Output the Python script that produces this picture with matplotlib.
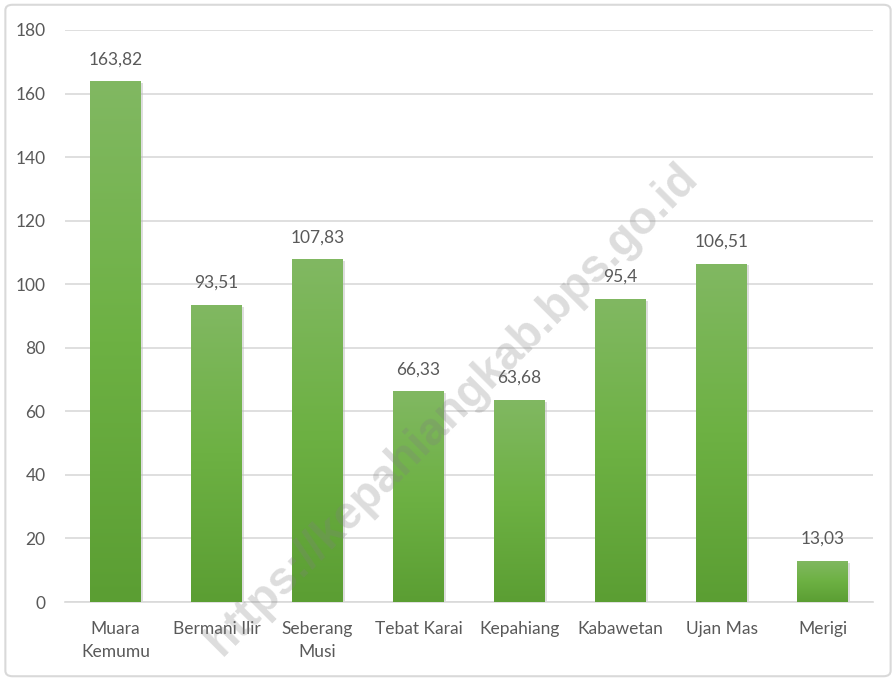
import matplotlib
matplotlib.use("Agg")
import matplotlib.pyplot as plt
import numpy as np
from matplotlib.patches import FancyBboxPatch
from matplotlib.colors import LinearSegmentedColormap

categories = ["Muara\nKemumu", "Bermani Ilir", "Seberang\nMusi", "Tebat Karai",
              "Kepahiang", "Kabawetan", "Ujan Mas", "Merigi"]
values = [163.82, 93.51, 107.83, 66.33, 63.68, 95.4, 106.51, 13.03]
value_labels = ["163,82", "93,51", "107,83", "66,33", "63,68", "95,4", "106,51", "13,03"]
yticks = [0, 20, 40, 60, 80, 100, 120, 140, 160, 180]

plt.rcParams['font.family'] = ['Lato', 'DejaVu Sans']
text_color = '#595959'

fig = plt.figure(figsize=(8.96, 6.81), dpi=100)
ax = fig.add_axes([0.0725, 0.116, 0.902, 0.84])

x = np.arange(len(categories))
# shadow
ax.bar(x + 0.025, values, width=0.5, bottom=-0.6, color='#bfbfbf', alpha=0.5, zorder=2, linewidth=0)
bars = ax.bar(x, values, width=0.5, color='#6aad42', zorder=3, linewidth=0)

cmap = LinearSegmentedColormap.from_list('g', ['#5b9e33', '#6db143', '#81b862'])
grad = np.linspace(0, 1, 256).reshape(-1, 1)
for b in bars:
    x0, y0 = b.get_x(), b.get_y()
    w, h = b.get_width(), b.get_height()
    im = ax.imshow(grad, cmap=cmap, aspect='auto', origin='lower',
                   extent=[x0, x0 + w, y0, y0 + h], zorder=4)
    im.set_clip_path(b)

for xi, v, lab in zip(x, values, value_labels):
    ax.annotate(lab, (xi, v), xytext=(0, 10), textcoords='offset points',
                ha='center', va='bottom', fontsize=12.5, color=text_color)

ax.set_xlim(-0.5, len(categories) - 0.5)
ax.set_ylim(0, 180)
ax.set_yticks(yticks)
ax.set_yticklabels([str(t) for t in yticks], fontsize=12.5, color=text_color)
ax.set_xticks(x)
ax.set_xticklabels(categories, fontsize=12.5, color=text_color, linespacing=1.5)
ax.tick_params(axis='both', length=0)
ax.tick_params(axis='x', pad=14)
ax.tick_params(axis='y', pad=14)
ax.grid(axis='y', color='#d9d9d9', linewidth=1.2, zorder=0)
ax.set_axisbelow(True)
for s in ['top', 'right', 'left']:
    ax.spines[s].set_visible(False)
ax.spines['bottom'].set_color('#d9d9d9')
ax.spines['bottom'].set_linewidth(1.2)

# watermark
fig.text(0.505, 0.398, "https://kepahiangkab.bps.go.id", rotation=45,
         ha='center', va='center', fontsize=33, fontweight='bold',
         color='#808080', alpha=0.27, family=['Liberation Sans', 'DejaVu Sans'], zorder=10)

# figure border
border = FancyBboxPatch((0.006, 0.007), 0.988, 0.986, boxstyle='round,pad=0,rounding_size=0.008',
                        transform=fig.transFigure, fill=False, edgecolor='#d9d9d9', linewidth=1.5)
fig.patches.append(border)

fig.savefig('out.png', dpi=100)
